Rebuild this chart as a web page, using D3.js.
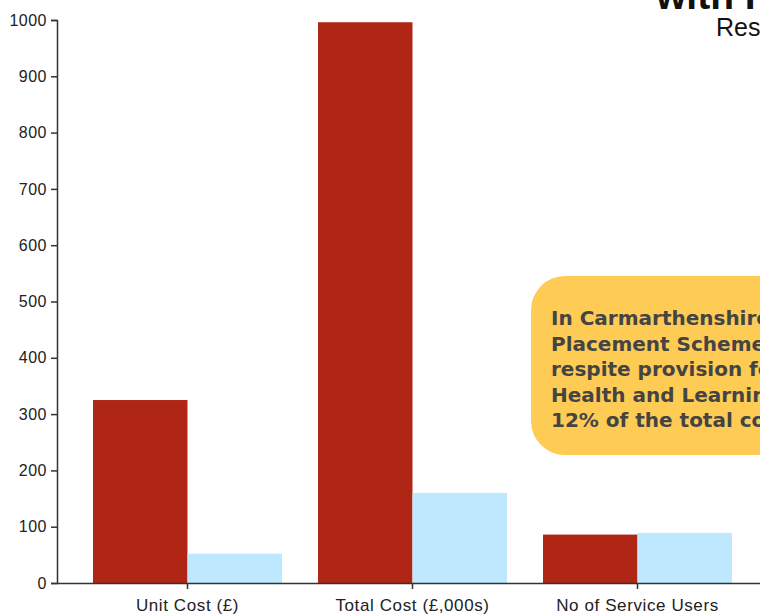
<!DOCTYPE html>
<html>
<head>
<meta charset="utf-8">
<script src="https://d3js.org/d3.v7.min.js"></script>
<style>
  body { margin: 0; overflow: hidden; background: #fff; }
  .axis text { font-family: "Liberation Sans", Arial, sans-serif; fill: #222; }
  .axis path, .axis line { stroke: #333; stroke-width: 1.5; }
  .callout text { font-family: "DejaVu Sans", sans-serif; font-weight: 700; fill: #444; }
</style>
</head>
<body>
<div id="chart"></div>
<script>
// chart values
var categories = ["Unit Cost (£)", "Total Cost (£,000s)", "No of Service Users"];
var seriesNames = ["Adult Placement", "Residential"];
var placementValues = [325, 996, 86];
var residentialValues = [52, 160, 89];
var yTicks = [0, 100, 200, 300, 400, 500, 600, 700, 800, 900, 1000];
var calloutLines = [
  "In Carmarthenshire the Adult",
  "Placement Scheme provides",
  "respite provision for Mental",
  "Health and Learning Disabilities at",
  "12% of the total cost"
];

window.onload = function(){
  makeChart()
};

function makeChart(){
  var margin = {top: 20, right: 0, bottom: 32, left: 57},
      outerWidth = 760,
      outerHeight = 615,
      width = 711,
      height = outerHeight - margin.top - margin.bottom;

  var x0 = d3.scaleBand()
      .domain(categories)
      .range([0, width])
      .padding(0.16);

  var x1 = d3.scaleBand()
      .domain(seriesNames)
      .range([0, x0.bandwidth()]);

  var color = d3.scaleOrdinal()
      .domain(seriesNames)
      .range(["#af2614", "#bde8fd"]);

  var y = d3.scaleLinear()
      .domain([0, 1000])
      .range([height, 0]);

  var svg = d3.select("#chart").append("svg")
      .attr("width", outerWidth)
      .attr("height", outerHeight);

  // title, cut off at the top right like the original
  svg.append("text")
      .attr("x", 656)
      .attr("y", 9)
      .style("font-family", "'Liberation Sans', Arial, sans-serif")
      .style("font-weight", 700)
      .style("font-size", "39px")
      .style("fill", "#111")
      .text("with Residential Care");

  svg.append("text")
      .attr("x", 716)
      .attr("y", 36)
      .style("font-family", "'Liberation Sans', Arial, sans-serif")
      .style("font-size", "25px")
      .style("fill", "#111")
      .text("Respite for Adults");

  var g = svg.append("g")
      .attr("transform", "translate(" + margin.left + "," + margin.top + ")");

  var rows = categories.map(function(c, i){
    return {category: c, values: [
      {name: seriesNames[0], value: placementValues[i]},
      {name: seriesNames[1], value: residentialValues[i]}
    ]};
  });

  var group = g.selectAll(".group")
      .data(rows)
    .enter().append("g")
      .attr("class", "group")
      .attr("transform", function(d){ return "translate(" + x0(d.category) + ",0)"; });

  group.selectAll("rect")
      .data(function(d){ return d.values; })
    .enter().append("rect")
      .attr("x", function(d){ return x1(d.name); })
      .attr("y", function(d){ return y(d.value); })
      .attr("width", x1.bandwidth())
      .attr("height", function(d){ return height - y(d.value); })
      .attr("fill", function(d){ return color(d.name); });

  var xAxis = d3.axisBottom()
      .scale(x0)
      .tickSizeOuter(0)

  var yAxis = d3.axisLeft()
      .scale(y)
      .tickValues(yTicks)
      .tickFormat(d3.format("d"))
      .tickPadding(4)

  g.append("g")
      .attr("class", "x axis")
      .attr("transform", "translate(0," + height + ")")
      .call(xAxis)
    .selectAll("text")
      .style("font-size", "17px")
      .style("letter-spacing", "0.6px")
      .attr("dy", "1.1em");

  g.append("g")
      .attr("class", "y axis")
      .call(yAxis)
    .selectAll("text")
      .style("font-size", "16px")
      .style("letter-spacing", "0.5px");

  // callout box
  var callout = svg.append("g")
      .attr("class", "callout")
      .attr("transform", "translate(531,276)");

  callout.append("rect")
      .attr("width", 320)
      .attr("height", 179)
      .attr("rx", 34)
      .attr("fill", "#fecb55");

  callout.selectAll("text")
      .data(calloutLines)
    .enter().append("text")
      .attr("x", 20)
      .attr("y", function(d, i){ return 49 + i * 25.5; })
      .style("font-size", "20px")
      .text(function(d){ return d; });
};
</script>
</body>
</html>
